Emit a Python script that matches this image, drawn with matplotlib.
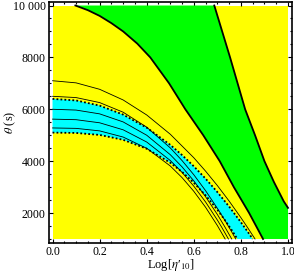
import numpy as np
import matplotlib
matplotlib.use("Agg")
import matplotlib.pyplot as plt
from matplotlib.ticker import MultipleLocator

plt.rcParams['font.family'] = ['Liberation Serif', 'DejaVu Serif']
plt.rcParams['mathtext.fontset'] = 'stix'

# data region
x_range = [0.0, 1.0]
theta_range = [1000, 10000]

# thick boundary of the green region (left / upper)
c1_x = [0.097, 0.15, 0.2, 0.25, 0.3, 0.36, 0.415, 0.495, 0.564, 0.64, 0.71, 0.77, 0.835, 0.894]
c1_t = [10000, 9820, 9600, 9320, 9000, 8530, 8000, 7000, 6000, 5000, 4000, 3000, 2000, 1000]
# thick boundary of the green region (right)
c2_x = [0.687, 0.754, 0.818, 0.86, 0.90, 0.94, 0.982, 1.0]
c2_t = [10000, 8000, 6000, 5000, 4000, 3200, 2450, 2200]

# cyan band, upper and lower dotted edges
u_x = [0.0, 0.1, 0.2, 0.3, 0.4, 0.5, 0.55, 0.6, 0.65, 0.7, 0.75, 0.8, 0.83, 0.85]
u_t = [6400, 6340, 6141, 5794, 5291, 4628, 4235, 3801, 3326, 2808, 2248, 1645, 1263, 1000]
l_x = [0.0, 0.1, 0.2, 0.3, 0.4, 0.5, 0.55, 0.6, 0.65, 0.7, 0.73, 0.76, 0.785]
l_t = [5100, 5087, 5011, 4822, 4479, 3940, 3586, 3168, 2682, 2127, 1754, 1355, 1000]

# thin solid contours
s1_x = [0.0, 0.1, 0.2, 0.3, 0.4, 0.5, 0.6, 0.65, 0.7, 0.75, 0.8, 0.83, 0.86]
s1_t = [7100, 7018, 6770, 6358, 5780, 5038, 4131, 3615, 3059, 2461, 1822, 1418, 1000]
s2_x = [0.0, 0.1, 0.2, 0.3, 0.4, 0.5, 0.55, 0.6, 0.65, 0.7, 0.73, 0.76, 0.778]
s2_t = [6500, 6451, 6258, 5886, 5309, 4511, 4023, 3475, 2862, 2182, 1750, 1288, 1000]
s3_x = [0.0, 0.1, 0.2, 0.3, 0.4, 0.5, 0.55, 0.6, 0.65, 0.7, 0.73, 0.761]
s3_t = [6000, 5969, 5823, 5512, 4999, 4250, 3780, 3240, 2629, 1945, 1494, 1000]
s4_x = [0.0, 0.1, 0.2, 0.3, 0.4, 0.5, 0.55, 0.6, 0.65, 0.7, 0.72, 0.747]
s4_t = [5620, 5598, 5479, 5208, 4737, 4026, 3567, 3035, 2425, 1730, 1429, 1000]
s5_x = [0.0, 0.1, 0.2, 0.3, 0.4, 0.5, 0.55, 0.6, 0.65, 0.7, 0.733]
s5_t = [5280, 5264, 5167, 4929, 4495, 3814, 3366, 2837, 2222, 1518, 1000]

x_ticks = [0.0, 0.2, 0.4, 0.6, 0.8, 1.0]
x_labels = ['0.0', '0.2', '0.4', '0.6', '0.8', '1.0']
y_ticks = [2000, 4000, 6000, 8000, 10000]
y_labels = ['2000', '4000', '6000', '8000', '10 000']

yellow = '#ffff00'
green = '#00ff00'
cyan = '#00ffff'

fig = plt.figure(figsize=(2.94, 2.76), dpi=100)
ax = fig.add_axes([49 / 294, 33 / 276, 243 / 294, 241 / 276])

# background yellow
ax.fill([x_range[0], x_range[1], x_range[1], x_range[0]],
        [theta_range[0], theta_range[0], theta_range[1], theta_range[1]],
        color=yellow, lw=0, zorder=1)

# green region between c1 and c2
gx = c1_x + [x_range[1]] + c2_x[::-1]
gt = c1_t + [theta_range[0]] + c2_t[::-1]
ax.fill(gx, gt, color=green, lw=0, zorder=2)

# cyan band
bx = u_x + l_x[::-1]
bt = u_t + l_t[::-1]
ax.fill(bx, bt, color=cyan, lw=0, zorder=3)

ax.plot(c1_x, c1_t, color='black', lw=1.3, zorder=5)
ax.plot(c2_x, c2_t, color='black', lw=1.3, zorder=5)
for sx, st in [(s1_x, s1_t), (s2_x, s2_t), (s3_x, s3_t), (s4_x, s4_t), (s5_x, s5_t)]:
    ax.plot(sx, st, color='black', lw=0.6, zorder=5)
ax.plot(u_x, u_t, color='black', lw=1.3, ls=(0, (1, 1.2)), zorder=6)
ax.plot(l_x, l_t, color='black', lw=1.3, ls=(0, (1, 1.2)), zorder=6)

ax.set_xlim(-0.015, 1.017)
ax.set_ylim(845, 10135)

ax.set_xticks(x_ticks)
ax.set_xticklabels(x_labels)
ax.set_yticks(y_ticks)
ax.set_yticklabels(y_labels)
ax.xaxis.set_minor_locator(MultipleLocator(0.05))
ax.yaxis.set_minor_locator(MultipleLocator(500))
ax.tick_params(which='both', direction='in', top=True, right=True,
               labelsize=8.6, pad=2.5, width=0.8)
ax.tick_params(which='major', length=3.2)
ax.tick_params(which='minor', length=1.6)
for sp in ax.spines.values():
    sp.set_linewidth(1.2)

ax.set_xlabel("Log[$\\eta$\u2032$_{10}$]", fontsize=9, va='top')
ax.xaxis.set_label_coords(0.5, -0.058)
ax.set_ylabel("$\\theta$ (s)", fontsize=8.8)
ax.yaxis.set_label_coords(-0.128, 0.5)

fig.savefig('out.png', dpi=100)
